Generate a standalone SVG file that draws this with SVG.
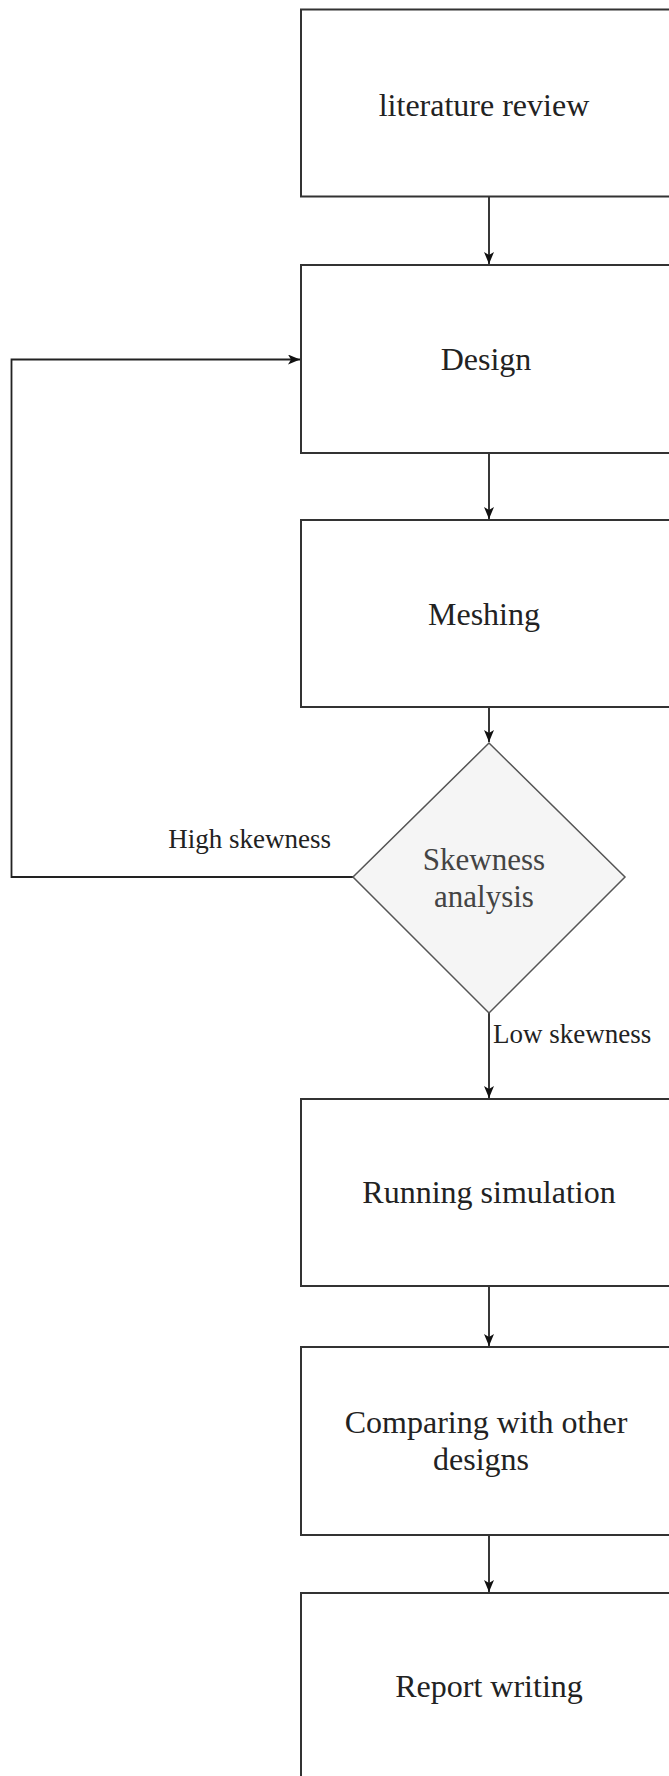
<svg xmlns="http://www.w3.org/2000/svg" width="669" height="1776" viewBox="0 0 669 1776">
  <defs>
    <style>
      .box { fill: #ffffff; stroke: #333333; stroke-width: 2; }
      .dia { fill: #f5f5f5; stroke: #555555; stroke-width: 1.5; }
      .lbl { font-family: "Liberation Serif", "Times New Roman", serif; font-size: 32px; fill: #222222; text-anchor: middle; }
      .dlbl { font-family: "Liberation Serif", "Times New Roman", serif; font-size: 31px; fill: #444444; text-anchor: middle; }
      .elbl { font-family: "Liberation Serif", "Times New Roman", serif; font-size: 27px; fill: #222222; }
      .edge { fill: none; stroke: #222222; stroke-width: 1.8; }
    </style>
    <marker id="arrow" viewBox="0 0 12 10" refX="12" refY="5" markerWidth="12" markerHeight="10" markerUnits="userSpaceOnUse" orient="auto">
      <path d="M0,0 L12,5 L0,10 L3,5 Z" fill="#111111"/>
    </marker>
  </defs>
  <rect width="669" height="1776" fill="#ffffff"/>

  <g id="connectors">
    <path class="edge" d="M489,197 V264" marker-end="url(#arrow)"/>
    <path class="edge" d="M489,453 V519" marker-end="url(#arrow)"/>
    <path class="edge" d="M489,707 V742" marker-end="url(#arrow)"/>
    <path class="edge" d="M489,1013 V1098" marker-end="url(#arrow)"/>
    <path class="edge" d="M489,1286 V1346" marker-end="url(#arrow)"/>
    <path class="edge" d="M489,1535 V1592" marker-end="url(#arrow)"/>
    <path class="edge" d="M353,877 H11.5 V359.5 H300" marker-end="url(#arrow)"/>
    <text class="elbl" x="331" y="848" text-anchor="end">High skewness</text>
    <text class="elbl" x="493" y="1043">Low skewness</text>
  </g>

  <g id="literature">
    <rect class="box" x="301" y="9.5" width="376" height="187"/>
    <text class="lbl" x="484" y="116" font-size="33">literature review</text>
  </g>
  <g id="design">
    <rect class="box" x="301" y="265" width="376" height="188"/>
    <text class="lbl" x="486" y="370" font-size="33">Design</text>
  </g>
  <g id="meshing">
    <rect class="box" x="301" y="520" width="376" height="187"/>
    <text class="lbl" x="484" y="625" font-size="33">Meshing</text>
  </g>
  <g id="skewness">
    <polygon class="dia" points="489,743 625,877 489,1013 353,877"/>
    <text class="dlbl" x="484" y="870">Skewness</text>
    <text class="dlbl" x="484" y="907">analysis</text>
  </g>
  <g id="simulation">
    <rect class="box" x="301" y="1099" width="376" height="187"/>
    <text class="lbl" x="489" y="1203">Running simulation</text>
  </g>
  <g id="comparing">
    <rect class="box" x="301" y="1347" width="376" height="188"/>
    <text class="lbl" x="486" y="1433">Comparing with other</text>
    <text class="lbl" x="481" y="1470">designs</text>
  </g>
  <g id="report">
    <rect class="box" x="301" y="1593" width="376" height="190"/>
    <text class="lbl" x="489" y="1697">Report writing</text>
  </g>
</svg>
